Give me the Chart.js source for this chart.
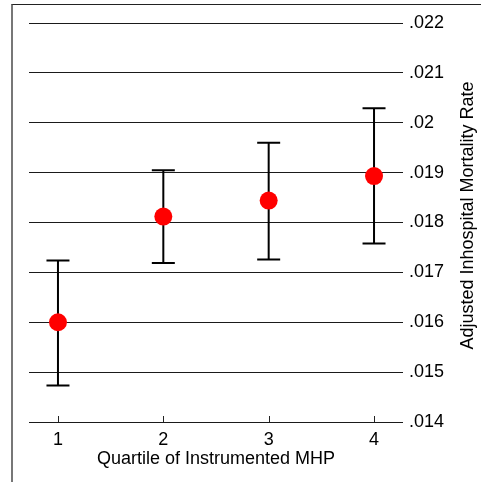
<!DOCTYPE html>
<html><head><meta charset="utf-8">
<script src="https://cdn.jsdelivr.net/npm/chart.js@4"></script>
<style>
html,body{margin:0;padding:0;background:#fff;overflow:hidden}
#wrap{position:relative;width:481px;height:482px}
#frame{position:absolute;left:11px;top:4px;right:0;bottom:0;border-left:2px solid #777;border-top:1px solid #222;pointer-events:none}
canvas{display:block}
</style></head><body>
<div id="wrap"><canvas id="c" width="481" height="482"></canvas><div id="frame"></div></div>
<script>
const quartiles = [1, 2, 3, 4];
const means = [0.01600, 0.01812, 0.01844, 0.01893];
const upper = [0.01724, 0.01905, 0.01960, 0.02029];
const lower = [0.01473, 0.01719, 0.01726, 0.01758];
const xTicks = [1, 2, 3, 4];
const yTicks = [0.014, 0.015, 0.016, 0.017, 0.018, 0.019, 0.020, 0.021, 0.022];
const xTitle = 'Quartile of Instrumented MHP';
const yTitle = 'Adjusted Inhospital Mortality Rate';

const FONT = "'Liberation Sans', Arial, sans-serif";

const decor = {
  id: 'decor',
  beforeDatasetsDraw(chart) {
    const {ctx, scales: {x, y}, chartArea} = chart;
    ctx.save();
    ctx.strokeStyle = '#222';
    ctx.lineWidth = 1;
    xTicks.forEach(v => {
      const px = Math.round(x.getPixelForValue(v)) + 0.5;
      ctx.beginPath();
      ctx.moveTo(px, chartArea.bottom);
      ctx.lineTo(px, chartArea.bottom - 6);
      ctx.stroke();
    });
    ctx.strokeStyle = '#000';
    ctx.lineWidth = 2;
    quartiles.forEach((q, i) => {
      const px = x.getPixelForValue(q);
      const pt = y.getPixelForValue(upper[i]);
      const pb = y.getPixelForValue(lower[i]);
      ctx.beginPath();
      ctx.moveTo(px, pt); ctx.lineTo(px, pb);
      ctx.moveTo(px - 11.5, pt); ctx.lineTo(px + 11.5, pt);
      ctx.moveTo(px - 11.5, pb); ctx.lineTo(px + 11.5, pb);
      ctx.stroke();
    });
    ctx.restore();
  },
  afterDraw(chart) {
    const {ctx} = chart;
    ctx.save();
    ctx.font = '18px ' + FONT;
    ctx.fillStyle = '#000';
    ctx.textAlign = 'center';
    ctx.textBaseline = 'middle';
    ctx.translate(468, 215.5);
    ctx.rotate(-Math.PI / 2);
    ctx.fillText(yTitle, 0, 0);
    ctx.restore();
  }
};

new Chart(document.getElementById('c'), {
  type: 'scatter',
  data: {
    datasets: [{
      data: quartiles.map((q, i) => ({x: q, y: means[i]})),
      backgroundColor: '#ff0000',
      borderWidth: 0,
      pointRadius: 9,
      pointHoverRadius: 9
    }]
  },
  options: {
    responsive: false,
    animation: false,
    events: [],
    layout: {padding: {left: 29, top: 23, right: 0, bottom: 0}},
    plugins: {legend: {display: false}, tooltip: {enabled: false}},
    scales: {
      x: {
        type: 'linear',
        min: 0.725, max: 4.275,
        afterBuildTicks: s => { s.ticks = xTicks.map(v => ({value: v})); },
        afterFit: s => { s.height = 60; },
        grid: {display: false, drawTicks: false},
        border: {display: false},
        ticks: {color: '#000', font: {size: 18, family: FONT}, padding: 7, callback: v => String(v)},
        title: {display: true, text: xTitle, color: '#000', font: {size: 18, family: FONT}, padding: {top: 0, bottom: 12}}
      },
      y: {
        position: 'right',
        min: 0.014, max: 0.022,
        afterBuildTicks: s => { s.ticks = yTicks.map(v => ({value: v})); },
        afterFit: s => { s.width = 78; },
        grid: {color: '#1a1a1a', lineWidth: 1, drawTicks: false},
        border: {display: false},
        ticks: {color: '#000', font: {size: 18, family: FONT}, padding: 6,
          callback: v => Number(v.toFixed(3)).toString().replace(/^0/, '')}
      }
    }
  },
  plugins: [decor]
});
</script>
</body></html>
